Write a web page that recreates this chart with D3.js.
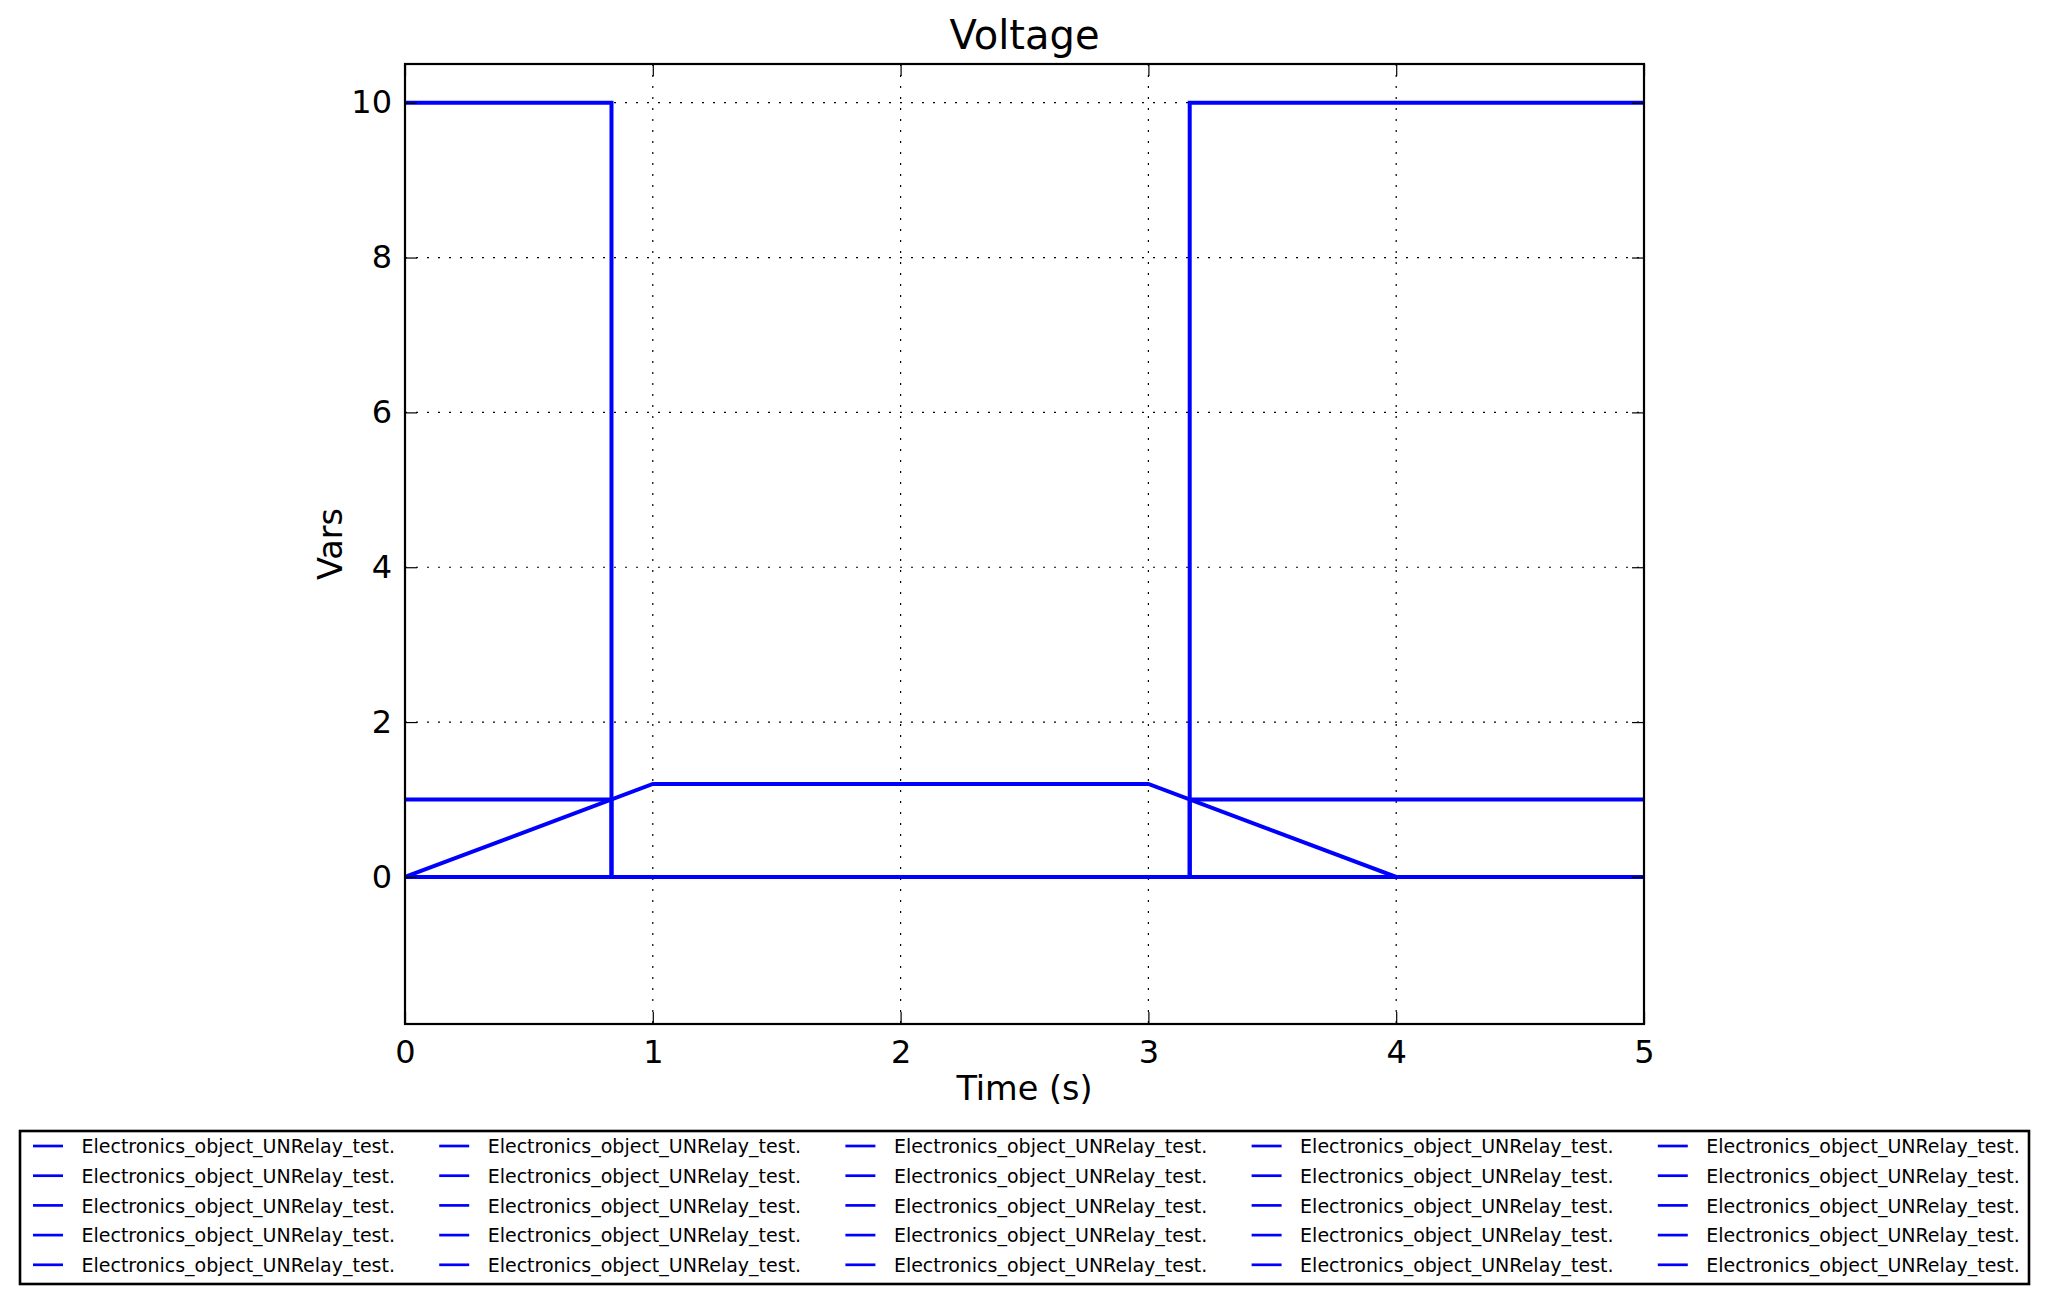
<!DOCTYPE html>
<html>
<head>
<meta charset="utf-8">
<script src="https://cdn.jsdelivr.net/npm/d3@7"></script>
<style>
  html, body { margin: 0; padding: 0; background: #fff; }
  svg { display: block; }
  text { font-family: "DejaVu Sans", sans-serif; fill: #000; }
</style>
</head>
<body>
<svg id="chart" width="2047" height="1304"></svg>
<script>
// ---- data ----
const title = "Voltage";
const xLabel = "Time (s)";
const yLabel = "Vars";
const xTicks = [0, 1, 2, 3, 4, 5];
const yTicks = [0, 2, 4, 6, 8, 10];
const xDomain = [0, 5];
const yDomain = [-1.9, 10.5];

// relay input (ramp)
const rampT = [0, 1, 3, 4, 5];
const rampV = [0, 1.2, 1.2, 0, 0];
// relay output
const outT = [0, 0.8333, 0.8333, 3.1667, 3.1667, 5];
const outV = [10, 10, 0, 0, 10, 10];
// threshold / state
const thrT = [0, 0.8333, 0.8333, 3.1667, 3.1667, 5];
const thrV = [1, 1, 0, 0, 1, 1];
// zero reference
const zeroT = [0, 5];
const zeroV = [0, 0];

const seriesList = [
  { t: rampT, v: rampV },
  { t: outT, v: outV },
  { t: thrT, v: thrV },
  { t: zeroT, v: zeroV }
];

const legendLabels = Array.from({ length: 25 }, () => "Electronics_object_UNRelay_test.");

// ---- layout ----
const svg = d3.select("#chart");
const L = 405, R = 1644, T = 64, B = 1024;
const x = d3.scaleLinear().domain(xDomain).range([L, R]);
const y = d3.scaleLinear().domain(yDomain).range([B, T]);
const blue = "#0000ff";

// grid
const grid = svg.append("g");
grid.selectAll(".gx").data(xTicks.filter(d => d > xDomain[0] && d < xDomain[1]))
  .join("line")
  .attr("x1", d => x(d)).attr("x2", d => x(d))
  .attr("y1", T).attr("y2", B)
  .attr("stroke", "#000").attr("stroke-width", 1.2)
  .attr("stroke-dasharray", "2,9");
grid.selectAll(".gy").data(yTicks)
  .join("line")
  .attr("y1", d => y(d)).attr("y2", d => y(d))
  .attr("x1", L).attr("x2", R)
  .attr("stroke", "#000").attr("stroke-width", 1.2)
  .attr("stroke-dasharray", "2,9");

// lines
svg.append("clipPath").attr("id", "clip")
  .append("rect").attr("x", L).attr("y", T).attr("width", R - L).attr("height", B - T);
const line = d3.line().x(d => x(d[0])).y(d => y(d[1]));
svg.append("g").attr("clip-path", "url(#clip)")
  .selectAll("path").data(seriesList).join("path")
  .attr("d", s => line(s.t.map((t, i) => [t, s.v[i]])))
  .attr("fill", "none").attr("stroke", blue).attr("stroke-width", 4)
  .attr("stroke-linejoin", "miter");

// axes (ticks inside, both sides)
const tickLen = 12;
const axB = svg.append("g").attr("transform", `translate(0,${B})`)
  .call(d3.axisBottom(x).tickValues(xTicks).tickSize(-tickLen).tickPadding(16).tickFormat(d3.format("d")));
const axT = svg.append("g").attr("transform", `translate(0,${T})`)
  .call(d3.axisTop(x).tickValues(xTicks).tickSize(-tickLen).tickFormat(""));
const axL = svg.append("g").attr("transform", `translate(${L},0)`)
  .call(d3.axisLeft(y).tickValues(yTicks).tickSize(-tickLen).tickPadding(13).tickFormat(d3.format("d")));
const axR = svg.append("g").attr("transform", `translate(${R},0)`)
  .call(d3.axisRight(y).tickValues(yTicks).tickSize(-tickLen).tickFormat(""));
[axB, axT, axL, axR].forEach(a => {
  a.select(".domain").remove();
  a.selectAll(".tick line").attr("stroke", "#000").attr("stroke-width", 1.2);
  a.selectAll(".tick text").attr("font-family", "DejaVu Sans").attr("font-size", 32).attr("fill", "#000");
});
axB.selectAll(".tick text").attr("dy", "0.71em");

// frame
svg.append("rect").attr("x", L).attr("y", T).attr("width", R - L).attr("height", B - T)
  .attr("fill", "none").attr("stroke", "#000").attr("stroke-width", 2.2);

// title and labels
svg.append("text").attr("x", (L + R) / 2).attr("y", 49).attr("text-anchor", "middle")
  .attr("font-size", 40).text(title);
svg.append("text").attr("x", (L + R) / 2).attr("y", 1100).attr("text-anchor", "middle")
  .attr("font-size", 33.5).text(xLabel);
svg.append("text").attr("transform", `translate(342,${(T + B) / 2}) rotate(-90)`)
  .attr("text-anchor", "middle").attr("font-size", 33.5).text(yLabel);

// legend
const lg = svg.append("g");
lg.append("rect").attr("x", 20).attr("y", 1131).attr("width", 2009).attr("height", 153)
  .attr("fill", "#fff").attr("stroke", "#000").attr("stroke-width", 2.6);
const nRows = 5, colW = 406.2, rowH = 29.7, row0 = 1146;
legendLabels.forEach((lab, i) => {
  const col = Math.floor(i / nRows), row = i % nRows;
  const x0 = 33 + col * colW, yy = row0 + row * rowH;
  lg.append("line").attr("x1", x0).attr("x2", x0 + 30).attr("y1", yy).attr("y2", yy)
    .attr("stroke", blue).attr("stroke-width", 2.7);
  lg.append("text").attr("x", x0 + 48.5).attr("y", yy + 7.3).attr("font-size", 19).text(lab);
});
</script>
</body>
</html>
